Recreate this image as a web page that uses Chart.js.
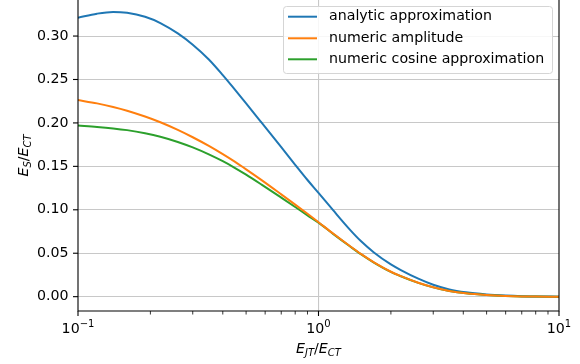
<!DOCTYPE html>
<html><head><meta charset="utf-8">
<script src="https://cdn.jsdelivr.net/npm/chart.js@4/dist/chart.umd.min.js"></script>
<style>html,body{margin:0;padding:0;background:#fff}#wrap{width:580px;height:364px}</style>
</head><body><div id="wrap"><canvas id="c" width="580" height="364"></canvas></div>
<script>
const xValues    = [0.1,    0.12,   0.14,   0.16,   0.19,   0.22,   0.26,   0.3,    0.35,   0.4,    0.45,   0.5,    0.58,   0.7,    0.8,    0.9,    1.0,    1.15,   1.35,   1.5,    1.7,    2.0,    2.2,    2.6,    3.0,    3.5,    4.1,    5.0,    6.0,    7.0,    8.0,    10.0];
const analytic   = [0.3211, 0.3258, 0.3278, 0.3268, 0.3222, 0.3150, 0.3030, 0.2900, 0.2730, 0.2550, 0.2380, 0.2225, 0.2003, 0.1720, 0.1518, 0.1343, 0.1195, 0.0995, 0.0772, 0.0640, 0.0509, 0.0371, 0.0306, 0.0207, 0.0137, 0.0083, 0.0050, 0.0026, 0.0013, 0.0006, 0.0003, 0.0000];
const numericAmp = [0.2263, 0.2225, 0.2184, 0.2141, 0.2074, 0.2008, 0.1920, 0.1835, 0.1735, 0.1640, 0.1551, 0.1466, 0.1342, 0.1178, 0.1060, 0.0954, 0.0857, 0.0727, 0.0583, 0.0492, 0.0395, 0.0287, 0.0236, 0.0160, 0.0108, 0.0066, 0.0038, 0.0018, 0.0007, 0.0002, 0.0001, 0.0000];
const numericCos = [0.1969, 0.1954, 0.1937, 0.1917, 0.1881, 0.1841, 0.1781, 0.1718, 0.1638, 0.1559, 0.1481, 0.1405, 0.1290, 0.1140, 0.1032, 0.0936, 0.0852, 0.0723, 0.0580, 0.0489, 0.0393, 0.0285, 0.0235, 0.0159, 0.0107, 0.0066, 0.0038, 0.0018, 0.0007, 0.0002, 0.0001, 0.0000];
const seriesLabels = ['analytic approximation', 'numeric amplitude', 'numeric cosine approximation'];
const yTicks = [0.00, 0.05, 0.10, 0.15, 0.20, 0.25, 0.30];
const yTickLabels = ['0.00', '0.05', '0.10', '0.15', '0.20', '0.25', '0.30'];
const xMajorTicks = [0.1, 1, 10];
const xMajorExp = ['\u22121', '0', '1'];
const xMinorTicks = [0.2,0.3,0.4,0.5,0.6,0.7,0.8,0.9,2,3,4,5,6,7,8,9];

const FONT = '"DejaVu Sans", sans-serif';
const FS = 14.2;
const FSS = 10;
const colors = ['#1f77b4', '#ff7f0e', '#2ca02c'];

function pts(arr){ return xValues.map((x,i)=>({x:x, y:arr[i]})); }

function drawRich(ctx, parts, x, y, align){
  let w = 0;
  parts.forEach(p=>{ ctx.font = (p.it?'italic ':'') + p.s + 'px ' + FONT; p.w = ctx.measureText(p.t).width; w += p.w; });
  let cx = align==='center' ? x - w/2 : (align==='right' ? x - w : x);
  parts.forEach(p=>{ ctx.font = (p.it?'italic ':'') + p.s + 'px ' + FONT; ctx.fillText(p.t, cx, y + (p.dy||0)); cx += p.w; });
}

const deco = {
  id:'deco',
  afterDraw(chart){
    const ctx = chart.ctx, a = chart.chartArea, xs = chart.scales.x, ys = chart.scales.y;
    ctx.save();
    ctx.strokeStyle = '#000'; ctx.lineWidth = 1.1;
    ctx.beginPath();
    ctx.moveTo(a.left, a.top); ctx.lineTo(a.left, a.bottom); ctx.lineTo(a.right, a.bottom); ctx.lineTo(a.right, a.top);
    ctx.stroke();
    ctx.fillStyle = '#000'; ctx.textBaseline = 'middle';
    yTicks.forEach((v,i)=>{
      const py = ys.getPixelForValue(v);
      ctx.beginPath(); ctx.moveTo(a.left, py); ctx.lineTo(a.left-5, py); ctx.stroke();
      ctx.font = FS + 'px ' + FONT; ctx.textAlign = 'right';
      ctx.fillText(yTickLabels[i], a.left-9.5, py);
    });
    ctx.textAlign = 'left'; ctx.textBaseline = 'alphabetic';
    xMinorTicks.forEach(v=>{
      const px = xs.getPixelForValue(v);
      ctx.lineWidth = 0.8;
      ctx.beginPath(); ctx.moveTo(px, a.bottom); ctx.lineTo(px, a.bottom+3.5); ctx.stroke();
    });
    xMajorTicks.forEach((v,i)=>{
      const px = xs.getPixelForValue(v);
      ctx.lineWidth = 1.1;
      ctx.beginPath(); ctx.moveTo(px, a.bottom); ctx.lineTo(px, a.bottom+5); ctx.stroke();
      drawRich(ctx, [{t:'10', s:FS}, {t:xMajorExp[i], s:FSS, dy:-6}], px, a.bottom+22, 'center');
    });
    const xc = (a.left + a.right)/2;
    drawRich(ctx, [{t:'E', s:FS, it:true}, {t:'JT', s:FSS, it:true, dy:3}, {t:'/', s:FS}, {t:'E', s:FS, it:true}, {t:'CT', s:FSS, it:true, dy:3}], xc, 353, 'center');
    ctx.save();
    ctx.translate(28, (a.top + a.bottom)/2);
    ctx.rotate(-Math.PI/2);
    drawRich(ctx, [{t:'E', s:FS, it:true}, {t:'S', s:FSS, it:true, dy:3}, {t:'/', s:FS}, {t:'E', s:FS, it:true}, {t:'CT', s:FSS, it:true, dy:3}], 0, 0, 'center');
    ctx.restore();
    // legend
    const L = 283, T = 6, R = 552, B = 73;
    ctx.beginPath();
    ctx.roundRect(L+0.5, T+0.5, R-L, B-T, 3);
    ctx.fillStyle = 'rgba(255,255,255,0.85)'; ctx.fill();
    ctx.strokeStyle = '#d5d5d5'; ctx.lineWidth = 1; ctx.stroke();
    const rows = [16.7, 38.3, 59.3];
    chart.data.datasets.forEach(ds=>{
      const idx = seriesLabels.indexOf(ds.label);
      const ry = rows[idx];
      ctx.strokeStyle = ds.borderColor; ctx.lineWidth = 2;
      ctx.beginPath(); ctx.moveTo(288, ry); ctx.lineTo(317, ry); ctx.stroke();
      ctx.fillStyle = '#000'; ctx.font = FS + 'px ' + FONT; ctx.textBaseline = 'middle'; ctx.textAlign = 'left';
      ctx.fillText(ds.label, 329, ry);
    });
    ctx.restore();
  }
};

new Chart(document.getElementById('c'), {
  type: 'line',
  data: {
    datasets: [
      {label: seriesLabels[0], data: pts(analytic), borderColor: colors[0], order: 2},
      {label: seriesLabels[1], data: pts(numericAmp), borderColor: colors[1], order: 0},
      {label: seriesLabels[2], data: pts(numericCos), borderColor: colors[2], order: 1}
    ]
  },
  options: {
    responsive: false, animation: false, devicePixelRatio: 1,
    layout: {padding: {top: 0, right: 21, left: 0, bottom: 0}},
    elements: {point: {radius: 0}, line: {borderWidth: 2, cubicInterpolationMode: 'monotone', fill: false}},
    plugins: {legend: {display: false}, tooltip: {enabled: false}},
    scales: {
      x: {
        type: 'logarithmic', min: 0.1, max: 10,
        afterBuildTicks: s => { s.ticks = xMajorTicks.map(v=>({value:v})); },
        afterFit: s => { s.height = 53; },
        ticks: {display: false},
        border: {display: false},
        grid: {drawTicks: false, color: c => (c.tick && c.tick.value === 1) ? '#c8c8c8' : 'rgba(0,0,0,0)', lineWidth: 1.1}
      },
      y: {
        type: 'linear', min: -0.0165, max: 0.3415,
        afterBuildTicks: s => { s.ticks = yTicks.map(v=>({value:v})); },
        afterFit: s => { s.width = 78; },
        ticks: {display: false},
        border: {display: false},
        grid: {drawTicks: false, color: '#c8c8c8', lineWidth: 1.1}
      }
    }
  },
  plugins: [deco]
});
</script>
</body></html>
